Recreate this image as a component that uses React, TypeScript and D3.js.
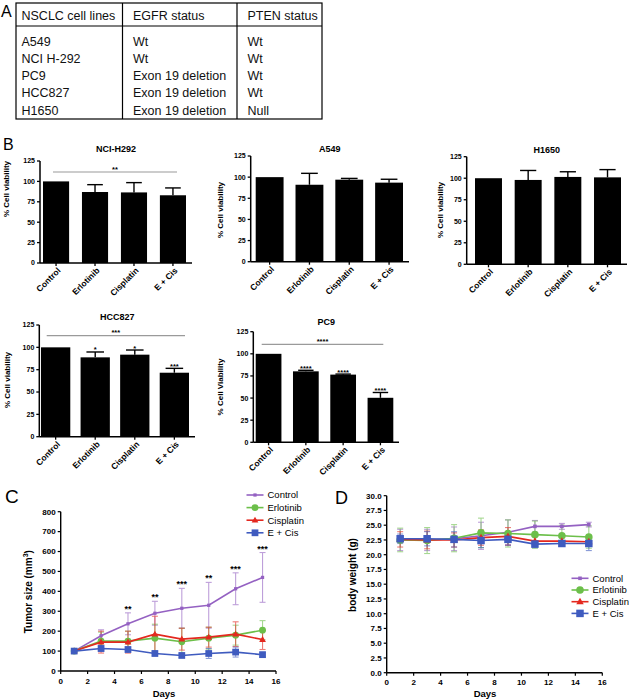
import React from 'react';
import * as d3 from 'd3';

const FONT = "'Liberation Sans', Arial, Helvetica, sans-serif";

// ---------- Panel A (table) ----------
const tableHeaders = ['NSCLC cell lines', 'EGFR status', 'PTEN status'];
const cellLines = ['A549', 'NCI H-292', 'PC9', 'HCC827', 'H1650'];
const egfrStatus = ['Wt', 'Wt', 'Exon 19 deletion', 'Exon 19 deletion', 'Exon 19 deletion'];
const ptenStatus = ['Wt', 'Wt', 'Wt', 'Wt', 'Null'];

// ---------- Panel B (bar charts) ----------
const treatments = ['Control', 'Erlotinib', 'Cisplatin', 'E + Cis'];
const viabilityTicks = [0, 25, 50, 75, 100, 125];
const nciH292Values = [100, 87, 86.5, 83];
const nciH292Errors = [0, 9, 12, 9];
const a549Values = [100, 91, 97, 93.5];
const a549Errors = [0, 13.5, 1.5, 4];
const h1650Values = [100, 98, 101.5, 101];
const h1650Errors = [0, 11, 6, 9];
const hcc827Values = [100, 88.8, 91.8, 71.6];
const hcc827Errors = [0, 6, 5.2, 4.9];
const hcc827Stars = ['', '*', '*', '***'];
const pc9Values = [100, 80.2, 76.5, 50.3];
const pc9Errors = [0, 1.2, 0.6, 6];
const pc9Stars = ['', '****', '****', '****'];

// ---------- Panel C (tumor size) ----------
const days = [1, 3, 5, 7, 9, 11, 13, 15];
const dayTicks = [0, 2, 4, 6, 8, 10, 12, 14, 16];
const tumorTicks = [0, 100, 200, 300, 400, 500, 600, 700, 800];
const tumorControl = [100, 177, 237, 290, 315, 330, 413, 470];
const tumorControlErr = [8, 30, 55, 60, 100, 115, 80, 125];
const tumorErlotinib = [100, 150, 150, 165, 147, 165, 180, 205];
const tumorErlotinibErr = [8, 45, 50, 70, 68, 55, 50, 48];
const tumorCisplatin = [100, 145, 145, 185, 160, 170, 185, 158];
const tumorCisplatinErr = [8, 55, 55, 90, 55, 50, 62, 50];
const tumorECis = [100, 113, 108, 88, 78, 88, 95, 82];
const tumorECisErr = [8, 15, 12, 12, 10, 25, 25, 12];
const tumorStarDays = [5, 7, 9, 11, 13, 15];
const tumorStars = ['**', '**', '***', '**', '***', '***'];

// ---------- Panel D (body weight) ----------
const weightTicks = [0, 2.5, 5, 7.5, 10, 12.5, 15, 17.5, 20, 22.5, 25, 27.5, 30];
const weightControl = [22.5, 22.5, 22.7, 23.2, 23.8, 24.8, 24.8, 25.1];
const weightControlErr = [1.8, 1.8, 2.0, 2.3, 2.1, 1.0, 0.5, 0.4];
const weightErlotinib = [22.5, 22.4, 22.8, 23.7, 23.6, 23.4, 23.2, 23.0];
const weightErlotinibErr = [2.0, 2.2, 2.3, 2.5, 2.3, 2.3, 1.8, 1.9];
const weightCisplatin = [22.6, 22.5, 22.5, 22.9, 23.1, 22.3, 22.3, 22.2];
const weightCisplatinErr = [1.3, 1.5, 1.2, 1.3, 1.5, 0.8, 0.6, 0.7];
const weightECis = [22.7, 22.7, 22.6, 22.4, 22.6, 21.8, 21.9, 21.9];
const weightECisErr = [0.8, 1.2, 1.3, 1.2, 1.0, 0.6, 0.5, 1.2];

const seriesNames = ['Control', 'Erlotinib', 'Cisplatin', 'E + Cis'];
const seriesColors = ['#9461c2', '#6cbf4a', '#e4281f', '#3f5bbf'];
const seriesMarkers = ['smallSquare', 'circle', 'triangle', 'square'];

function Marker({ type, x, y, color, scale = 1 }) {
  if (type === 'smallSquare') {
    const s = 3.6 * scale;
    return <rect x={x - s / 2} y={y - s / 2} width={s} height={s} fill={color} />;
  }
  if (type === 'circle') {
    return <circle cx={x} cy={y} r={3.8 * scale} fill={color} />;
  }
  if (type === 'triangle') {
    const s = 7.5 * scale;
    const h = s * 0.87;
    return (
      <path
        d={`M${x},${y - h * 0.6}L${x + s / 2},${y + h * 0.4}L${x - s / 2},${y + h * 0.4}Z`}
        fill={color}
      />
    );
  }
  const s = 7.5 * scale;
  return <rect x={x - s / 2} y={y - s / 2} width={s} height={s} fill={color} />;
}

function BarPanel({
  title, values, errors, stars, sigLabel, ylabel,
  ax, axEnd, yTop, yBottom, b0, b1, pad,
  titleY, ylabelX, ylabelY, sigY, sigX0, sigX1,
}) {
  const y = d3.scaleLinear().domain([0, 125]).range([yBottom, yTop]);
  const x = d3.scaleBand().domain(treatments).range([b0, b1]).paddingInner(pad).paddingOuter(0);
  const bw = x.bandwidth();
  return (
    <g fontFamily={FONT} fontWeight="bold">
      <text x={(ax + axEnd) / 2} y={titleY} fontSize={9} textAnchor="middle">{title}</text>
      {treatments.map((t, i) => {
        const x0 = x(t);
        const cx = x0 + bw / 2;
        const top = y(values[i]);
        const et = y(values[i] + errors[i]);
        return (
          <g key={t}>
            <rect x={x0} y={top} width={bw} height={yBottom - top} fill="#000" />
            {errors[i] > 0 && (
              <g stroke="#000" strokeWidth={1.4}>
                <line x1={cx} x2={cx} y1={top} y2={et} />
                <line x1={cx - bw * 0.3} x2={cx + bw * 0.3} y1={et} y2={et} />
              </g>
            )}
            {stars && stars[i] && (
              <text x={cx} y={et + 0.5} fontSize={7.5} textAnchor="middle">{stars[i]}</text>
            )}
            <line x1={cx} x2={cx} y1={yBottom} y2={yBottom + 3} stroke="#000" strokeWidth={1.3} />
            <text
              transform={`translate(${cx + 3},${yBottom + 6}) rotate(-45)`}
              fontSize={8.5}
              textAnchor="end"
              dy="0.35em"
            >
              {t}
            </text>
          </g>
        );
      })}
      <line x1={ax} x2={ax} y1={yTop} y2={yBottom} stroke="#000" strokeWidth={1.5} />
      <line x1={ax} x2={axEnd} y1={yBottom} y2={yBottom} stroke="#000" strokeWidth={1.5} />
      {viabilityTicks.map((v) => (
        <g key={v}>
          <line x1={ax - 3} x2={ax} y1={y(v)} y2={y(v)} stroke="#000" strokeWidth={1.3} />
          <text x={ax - 5} y={y(v)} dy="0.35em" fontSize={7} textAnchor="end">{v}</text>
        </g>
      ))}
      <text
        transform={`translate(${ylabelX},${ylabelY}) rotate(-90)`}
        fontSize={8}
        textAnchor="middle"
        dy="0.35em"
      >
        {ylabel}
      </text>
      {sigLabel && (
        <g>
          <line x1={sigX0} x2={sigX1} y1={sigY} y2={sigY} stroke="#9a9a9a" strokeWidth={1.2} />
          <text x={(sigX0 + sigX1) / 2} y={sigY - 0.5} fontSize={7.5} textAnchor="middle">{sigLabel}</text>
        </g>
      )}
    </g>
  );
}

function LinePanel({
  series, yTicks, yMax, yFormat, ax, xEnd, yTop, yBottom, ylabel, ylabelX, ylabelY,
  daysLabelX, legendX, legendY0, legendStep, markerScale, stars, starDays, capW,
}) {
  const x = d3.scaleLinear().domain([0, 16]).range([ax, xEnd]);
  const y = d3.scaleLinear().domain([0, yMax]).range([yBottom, yTop]);
  const line = d3.line().x((d) => x(d[0])).y((d) => y(d[1]));
  return (
    <g fontFamily={FONT}>
      {series.map((s) => (
        <g key={s.name + 'e'} stroke={s.color} strokeWidth={1.1} opacity={0.6}>
          {days.map((d, i) => {
            const cx = x(d);
            const y1 = y(s.values[i] + s.errors[i]);
            const y2 = y(s.values[i] - s.errors[i]);
            return (
              <g key={d}>
                <line x1={cx} x2={cx} y1={y1} y2={y2} />
                <line x1={cx - capW} x2={cx + capW} y1={y1} y2={y1} />
                <line x1={cx - capW} x2={cx + capW} y1={y2} y2={y2} />
              </g>
            );
          })}
        </g>
      ))}
      {series.map((s) => (
        <g key={s.name}>
          <path
            d={line(days.map((d, i) => [d, s.values[i]]))}
            fill="none"
            stroke={s.color}
            strokeWidth={1.6}
          />
          {days.map((d, i) => (
            <Marker key={d} type={s.marker} x={x(d)} y={y(s.values[i])} color={s.color} scale={markerScale} />
          ))}
        </g>
      ))}
      {stars &&
        starDays.map((d, i) => {
          const idx = days.indexOf(d);
          const top = y(series[0].values[idx] + series[0].errors[idx]);
          return (
            <text key={d} x={x(d)} y={top - 1} fontSize={9} fontWeight="bold" textAnchor="middle">
              {stars[i]}
            </text>
          );
        })}
      <line x1={ax} x2={ax} y1={yTop} y2={yBottom} stroke="#000" strokeWidth={1.4} />
      <line x1={ax} x2={xEnd} y1={yBottom} y2={yBottom} stroke="#000" strokeWidth={1.4} />
      {yTicks.map((v) => (
        <g key={v}>
          <line x1={ax - 3} x2={ax} y1={y(v)} y2={y(v)} stroke="#000" strokeWidth={1.2} />
          <text x={ax - 5} y={y(v)} dy="0.35em" fontSize={8} fontWeight="bold" textAnchor="end">
            {yFormat(v)}
          </text>
        </g>
      ))}
      {dayTicks.map((v) => (
        <g key={v}>
          <line x1={x(v)} x2={x(v)} y1={yBottom} y2={yBottom + 3} stroke="#000" strokeWidth={1.2} />
          <text x={x(v)} y={yBottom + 12.5} fontSize={8} fontWeight="bold" textAnchor="middle">{v}</text>
        </g>
      ))}
      <text x={daysLabelX} y={696.5} fontSize={9.5} fontWeight="bold" textAnchor="middle">Days</text>
      <text
        transform={`translate(${ylabelX},${ylabelY}) rotate(-90)`}
        fontSize={10}
        fontWeight="bold"
        textAnchor="middle"
        dy="0.35em"
      >
        {ylabel}
      </text>
      {series.map((s, i) => {
        const ly = legendY0 + i * legendStep;
        return (
          <g key={s.name + 'l'}>
            <line x1={legendX} x2={legendX + 17} y1={ly} y2={ly} stroke={s.color} strokeWidth={1.6} />
            <Marker type={s.marker} x={legendX + 8.5} y={ly} color={s.color} scale={markerScale} />
            <text x={legendX + 21} y={ly} dy="0.35em" fontSize={9.5}>{s.name}</text>
          </g>
        );
      })}
    </g>
  );
}

export default function App() {
  const tumorSeries = [
    [tumorControl, tumorControlErr],
    [tumorErlotinib, tumorErlotinibErr],
    [tumorCisplatin, tumorCisplatinErr],
    [tumorECis, tumorECisErr],
  ].map(([values, errors], i) => ({
    name: seriesNames[i], values, errors, color: seriesColors[i], marker: seriesMarkers[i],
  }));
  const weightSeries = [
    [weightControl, weightControlErr],
    [weightErlotinib, weightErlotinibErr],
    [weightCisplatin, weightCisplatinErr],
    [weightECis, weightECisErr],
  ].map(([values, errors], i) => ({
    name: seriesNames[i], values, errors, color: seriesColors[i], marker: seriesMarkers[i],
  }));

  const colX = [21.5, 133, 247.5];
  const rowY = (i) => 45.5 + i * 17.3;

  return (
    <svg
      width={629}
      height={700}
      style={{ position: 'absolute', left: 0, top: 0, background: '#fff' }}
      fontFamily={FONT}
    >
      <rect x={0} y={0} width={629} height={700} fill="#fff" />
      {/* Panel letters */}
      <text x={1} y={17} fontSize={16}>A</text>
      <text x={3} y={150} fontSize={16}>B</text>
      <text x={5} y={503} fontSize={19}>C</text>
      <text x={335} y={504} fontSize={18}>D</text>

      {/* Table */}
      <g fill="none" stroke="#000" strokeWidth={1.2}>
        <rect x={16} y={3} width={306} height={116} />
        <line x1={16} x2={322} y1={26} y2={26} />
        <line x1={122.5} x2={122.5} y1={3} y2={119} />
        <line x1={237} x2={237} y1={3} y2={119} />
      </g>
      <g fontSize={12.5} fill="#111">
        {tableHeaders.map((h, i) => (
          <text key={h} x={colX[i]} y={19.5}>{h}</text>
        ))}
        {cellLines.map((c, i) => (
          <g key={c}>
            <text x={colX[0]} y={rowY(i)}>{c}</text>
            <text x={colX[1]} y={rowY(i)}>{egfrStatus[i]}</text>
            <text x={colX[2]} y={rowY(i)}>{ptenStatus[i]}</text>
          </g>
        ))}
      </g>

      {/* Panel B */}
      <BarPanel
        title="NCI-H292" values={nciH292Values} errors={nciH292Errors} sigLabel="**"
        ylabel="% Cell viability" ax={40} axEnd={192} yTop={161} yBottom={263}
        b0={43} b1={186} pad={0.33} titleY={151.5} ylabelX={6} ylabelY={189}
        sigY={172} sigX0={53} sigX1={177}
      />
      <BarPanel
        title="A549" values={a549Values} errors={a549Errors}
        ylabel="% Cell viability" ax={250.7} axEnd={409} yTop={156} yBottom={261.7}
        b0={255.7} b1={403} pad={0.3} titleY={151.5} ylabelX={220} ylabelY={210}
      />
      <BarPanel
        title="H1650" values={h1650Values} errors={h1650Errors}
        ylabel="% Cell viability" ax={466.7} axEnd={627} yTop={156.7} yBottom={264.3}
        b0={475} b1={621} pad={0.32} titleY={152.5} ylabelX={440} ylabelY={210}
      />
      <BarPanel
        title="HCC827" values={hcc827Values} errors={hcc827Errors} stars={hcc827Stars} sigLabel="***"
        ylabel="% Cell viability" ax={39.3} axEnd={195} yTop={325} yBottom={436.7}
        b0={41} b1={189} pad={0.26} titleY={320} ylabelX={7.5} ylabelY={380}
        sigY={335.7} sigX0={46.7} sigX1={185}
      />
      <BarPanel
        title="PC9" values={pc9Values} errors={pc9Errors} stars={pc9Stars} sigLabel="****"
        ylabel="% Cell Viability" ax={253.3} axEnd={399} yTop={331.7} yBottom={442.3}
        b0={255.7} b1={393.3} pad={0.31} titleY={325} ylabelX={220} ylabelY={387}
        sigY={344.3} sigX0={261.7} sigX1={383.3}
      />

      {/* Panel C */}
      <LinePanel
        series={tumorSeries} yTicks={tumorTicks} yMax={800} yFormat={(v) => String(v)}
        ax={60.7} xEnd={276} yTop={511.7} yBottom={671}
        ylabel={<>
          <tspan>Tumor size (mm</tspan>
          <tspan dy={-3.5} fontSize={7}>3</tspan>
          <tspan dy={3.5}>)</tspan>
        </>}
        ylabelX={28} ylabelY={591.7} daysLabelX={164}
        legendX={246.5} legendY0={495} legendStep={12.6} markerScale={0.9}
        stars={tumorStars} starDays={tumorStarDays} capW={3}
      />

      {/* Panel D */}
      <LinePanel
        series={weightSeries} yTicks={weightTicks} yMax={30} yFormat={d3.format('.1f')}
        ax={386.7} xEnd={602.3} yTop={495.7} yBottom={672.7}
        ylabel="body weight (g)" ylabelX={352.7} ylabelY={575} daysLabelX={485}
        legendX={571.5} legendY0={578.3} legendStep={11.7} markerScale={1}
        capW={3}
      />
    </svg>
  );
}
